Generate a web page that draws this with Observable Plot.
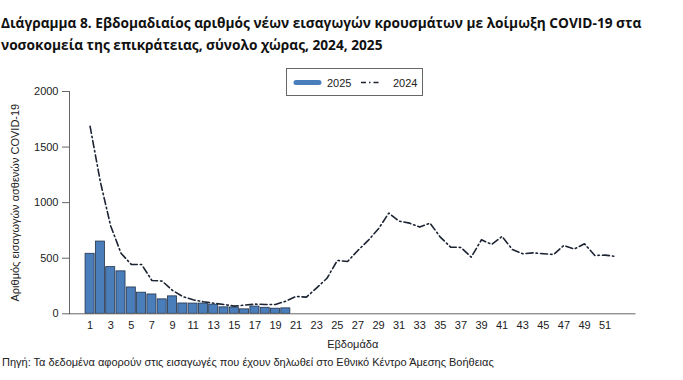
<!DOCTYPE html>
<html><head><meta charset="utf-8">
<script src="https://cdn.jsdelivr.net/npm/d3@7"></script>
<script src="https://cdn.jsdelivr.net/npm/@observablehq/plot@0.6"></script>
<style>
body{margin:0;background:#fff;width:683px;height:380px;position:relative;overflow:hidden;font-family:"Liberation Sans",Arial,sans-serif;}
#title{position:absolute;left:1px;top:12px;font-family:"Open Sans",sans-serif;font-weight:700;font-size:13.7px;line-height:21.5px;color:#111;white-space:nowrap;}
#chart{position:absolute;left:0;top:60px;}
#legend{position:absolute;left:286px;top:68px;width:137px;height:28px;border:1px solid #666;box-sizing:border-box;background:#fff;}
#legend svg{display:block;}
#caption{position:absolute;left:2px;top:356px;font-size:11px;color:#222;white-space:nowrap;}
</style></head><body>
<div id="title">Διάγραμμα 8. Εβδομαδιαίος αριθμός νέων εισαγωγών κρουσμάτων με λοίμωξη COVID-19 στα<br>νοσοκομεία της επικράτειας, σύνολο χώρας, 2024, 2025</div>
<div id="chart"></div>
<div id="legend"></div>
<div id="caption">Πηγή: Τα δεδομένα αφορούν στις εισαγωγές που έχουν δηλωθεί στο Εθνικό Κέντρο Άμεσης Βοήθειας</div>
<script>
// ---- data ----
const weeks2025 = [1,2,3,4,5,6,7,8,9,10,11,12,13,14,15,16,17,18,19,20];
const admissions2025 = [540,650,420,382,237,190,174,130,157,93,92,92,82,58,57,40,65,54,46,49];
const weeks2024 = [1,2,3,4,5,6,7,8,9,10,11,12,13,14,15,16,17,18,19,20,21,22,23,24,25,26,27,28,29,30,31,32,33,34,35,36,37,38,39,40,41,42,43,44,45,46,47,48,49,50,51,52];
const admissions2024 = [1686,1185,790,545,444,444,300,294,210,155,126,108,95,84,69,78,87,84,84,114,156,150,234,320,480,471,570,660,765,906,834,816,780,816,690,600,597,510,666,624,696,578,540,548,540,534,615,582,630,525,528,516];
const xTicks = [1,3,5,7,9,11,13,15,17,19,21,23,25,27,29,31,33,35,37,39,41,43,45,47,49,51];
const yTicks = [0,500,1000,1500,2000];
const seriesNames = ["2025","2024"];
const xLabel = "Εβδομάδα";
const yLabel = "Αριθμός εισαγωγών ασθενών COVID-19";

const d25 = weeks2025.map((w,i)=>({week:w, value:admissions2025[i]}));
const d24 = weeks2024.map((w,i)=>({week:w, value:admissions2024[i]}));

const barColor = "#4a7ebb";
const lineColor = "#1c2433";
const dash = "7,3,1.5,3";

const chart = Plot.plot({
  width: 683, height: 290,
  marginLeft: 69, marginRight: 47.5, marginTop: 31, marginBottom: 36.7,
  x: {domain: [-1, 54]},
  y: {domain: [0, 2000]},
  style: {fontFamily: "'Liberation Sans', Arial, sans-serif", fontSize: "11px", color: "#222", background: "#fff"},
  marks: [
    Plot.rectY(d25, {x1: d => d.week - 0.44, x2: d => d.week + 0.44, y: "value", fill: barColor, stroke: "#22324a", strokeWidth: 0.8}),
    Plot.line(d24, {x: "week", y: "value", stroke: lineColor, strokeWidth: 1.6, strokeDasharray: dash}),
    Plot.ruleY([0], {stroke: "#666", strokeWidth: 1}),
    Plot.frame({anchor: "left", stroke: "#666"}),
    Plot.axisY({ticks: yTicks, tickFormat: d => String(d), tickSize: 7, tickPadding: 4, stroke: "#666", fill: "#222", label: yLabel, labelAnchor: "center", labelOffset: 58, labelArrow: "none"}),
    Plot.axisX({ticks: xTicks, tickFormat: d => String(d), tickSize: 0, tickPadding: 7, fill: "#222", label: null}),
    Plot.axisX({ticks: [], label: xLabel, labelAnchor: "center", labelOffset: 34, labelArrow: "none", fill: "#222", dx: -13})
  ]
});
document.getElementById("chart").appendChild(chart);

// legend
const lg = d3.select("#legend").append("svg").attr("width", 135).attr("height", 26);
lg.append("line").attr("x1", 9).attr("x2", 32).attr("y1", 13.5).attr("y2", 13.5)
  .attr("stroke", barColor).attr("stroke-width", 5).attr("stroke-linecap", "round");
lg.append("text").attr("x", 40).attr("y", 17.5).attr("font-size", 11).attr("fill", "#222")
  .attr("font-family", "'Liberation Sans', Arial, sans-serif").text(seriesNames[0]);
lg.append("line").attr("x1", 74).attr("x2", 93).attr("y1", 13.5).attr("y2", 13.5)
  .attr("stroke", lineColor).attr("stroke-width", 1.3).attr("stroke-dasharray", "5,3,1.5,3");
lg.append("text").attr("x", 106).attr("y", 17.5).attr("font-size", 11).attr("fill", "#222")
  .attr("font-family", "'Liberation Sans', Arial, sans-serif").text(seriesNames[1]);
</script>
</body></html>
